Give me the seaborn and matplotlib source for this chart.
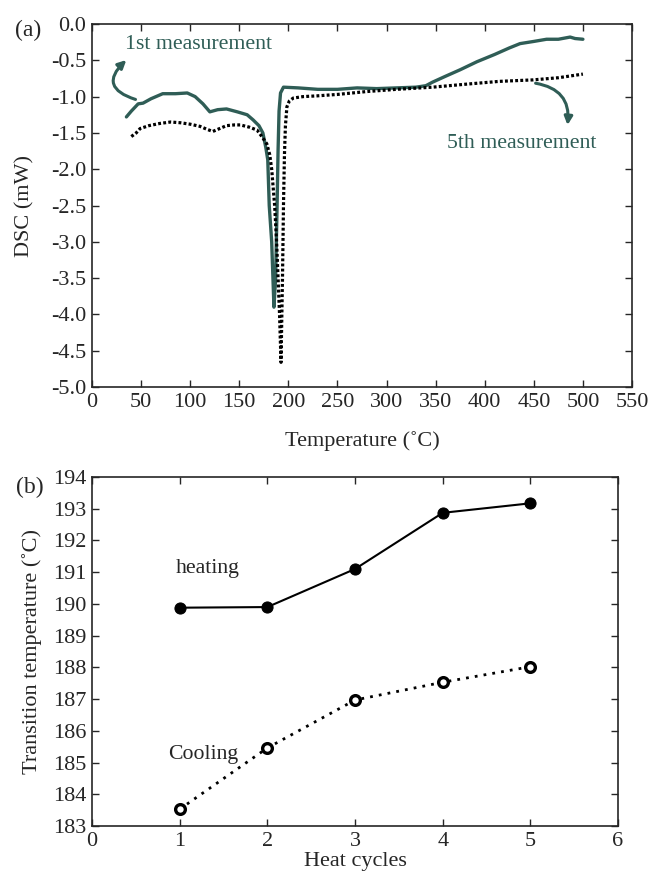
import matplotlib
matplotlib.use("Agg")
import matplotlib.pyplot as plt
import seaborn as sns

# --- data ---
# (a) DSC curves, 1st and 5th measurement
first_T = [35, 40, 47, 52, 60, 72, 85, 97, 105, 113, 120, 128, 137, 148, 158, 164,
           170, 174, 177, 179, 180.5, 183, 185.3, 187, 188.5, 189.5, 190.5, 192, 195,
           210, 230, 250, 270, 290, 310, 330, 340, 347, 360, 375, 392, 410, 425, 436,
           450, 463, 475, 487, 492, 500]
first_dsc = [-1.28, -1.20, -1.10, -1.09, -1.03, -0.96, -0.96, -0.95, -1.00, -1.10, -1.21,
             -1.18, -1.17, -1.21, -1.25, -1.32, -1.40, -1.50, -1.70, -1.87, -2.50, -3.00,
             -3.90, -3.50, -2.50, -1.74, -1.20, -0.95, -0.87, -0.88, -0.90, -0.90, -0.88,
             -0.89, -0.88, -0.87, -0.85, -0.80, -0.72, -0.63, -0.52, -0.42, -0.33, -0.27,
             -0.24, -0.21, -0.21, -0.18, -0.20, -0.21]

fifth_T = [40, 45, 49, 58, 69, 80, 90, 100, 110, 117, 123, 130, 137, 145, 151, 160, 168,
           173, 178, 181, 183, 186, 188, 191, 192.5, 194, 195, 196, 197, 198.5, 201, 205,
           215, 229, 250, 280, 310, 347, 380, 415, 449, 475, 500]
fifth_dsc = [-1.55, -1.50, -1.44, -1.40, -1.37, -1.35, -1.36, -1.38, -1.41, -1.45, -1.48,
             -1.44, -1.40, -1.39, -1.39, -1.42, -1.46, -1.55, -1.65, -1.80, -2.00, -2.50,
             -3.00, -4.00, -4.66, -3.50, -2.50, -1.80, -1.40, -1.14, -1.06, -1.02, -1.00,
             -0.99, -0.97, -0.93, -0.90, -0.87, -0.83, -0.79, -0.77, -0.74, -0.69]

# (b) transition temperature vs heat cycle
cycles = [1, 2, 3, 4, 5]
heating = [189.88, 189.90, 191.10, 192.87, 193.17]
cooling = [183.53, 185.46, 186.97, 187.53, 188.02]

teal = "#2f5d56"
FS = 16

sns.set_theme(style="ticks")
plt.rcParams["font.family"] = ["Liberation Serif", "DejaVu Serif"]
plt.rcParams["xtick.direction"] = "in"
plt.rcParams["ytick.direction"] = "in"
plt.rcParams["xtick.top"] = True
plt.rcParams["ytick.right"] = True

fig = plt.figure(figsize=(6.49, 8.76), dpi=100)
ax1 = fig.add_axes([0.1418, 0.5582, 0.832, 0.4144])
ax2 = fig.add_axes([0.1418, 0.0571, 0.8105, 0.3984])

# --- panel (a) ---
sns.lineplot(x=first_T, y=first_dsc, ax=ax1, color=teal, lw=2.4,
             estimator=None, sort=False)
sns.lineplot(x=fifth_T, y=fifth_dsc, ax=ax1, color="black", lw=2.3,
             linestyle=(0, (0.9, 0.7)), estimator=None, sort=False)
ax1.set_xlim(0, 550)
ax1.set_ylim(-5.0, 0.0)
ax1.set_xticks(range(0, 551, 50))
ax1.set_yticks([-5.0, -4.5, -4.0, -3.5, -3.0, -2.5, -2.0, -1.5, -1.0, -0.5, 0.0])
ax1.set_yticklabels([f"{v:.1f}" for v in ax1.get_yticks()])
ax1.set_xlabel("Temperature (˚C)", fontsize=FS, labelpad=14)
ax1.set_ylabel("DSC (mW)", fontsize=FS, labelpad=12)
ax1.text(-0.1426, 0.983, "(a)", transform=ax1.transAxes, fontsize=17, va="center")

ax1.text(34, -0.28, "1st measurement", color=teal, fontsize=15.7, va="center")
ax1.annotate("", xy=(37, -0.47), xytext=(47, -1.05),
             arrowprops=dict(arrowstyle="-|>", color=teal, lw=2.2,
                             connectionstyle="arc3,rad=-0.9", mutation_scale=12))
ax1.text(362, -1.64, "5th measurement", color=teal, fontsize=15.7, va="center")
ax1.annotate("", xy=(484, -1.43), xytext=(449, -0.81),
             arrowprops=dict(arrowstyle="-|>", color=teal, lw=2.2,
                             connectionstyle="arc3,rad=-0.5", mutation_scale=12))

# --- panel (b) ---
sns.lineplot(x=cycles, y=heating, ax=ax2, color="black", lw=1.5, marker="o",
             markersize=8, markerfacecolor="black", markeredgecolor="black")
sns.lineplot(x=cycles, y=cooling, ax=ax2, color="black", lw=2,
             linestyle=(0, (1, 2.2)), marker="o", markersize=7,
             markerfacecolor="white", markeredgecolor="black", markeredgewidth=2.4)
ax2.set_xlim(0, 6)
ax2.set_ylim(183, 194)
ax2.set_xticks(range(0, 7))
ax2.set_yticks(range(183, 195))
ax2.set_xlabel("Heat cycles", fontsize=FS, labelpad=1)
ax2.set_ylabel("Transition temperature (˚C)", fontsize=FS, labelpad=8)
ax2.text(-0.1445, 0.971, "(b)", transform=ax2.transAxes, fontsize=17, va="center")
ax2.text(0.96, 191.1, "heating", fontsize=15.7, va="center")
ax2.text(0.87, 185.25, "Cooling", fontsize=15.7, va="center")

for ax in (ax1, ax2):
    ax.tick_params(length=5, width=1, pad=4, labelsize=FS)
    for s in ax.spines.values():
        s.set_linewidth(1.2)

fig.savefig("out.png", dpi=100)
